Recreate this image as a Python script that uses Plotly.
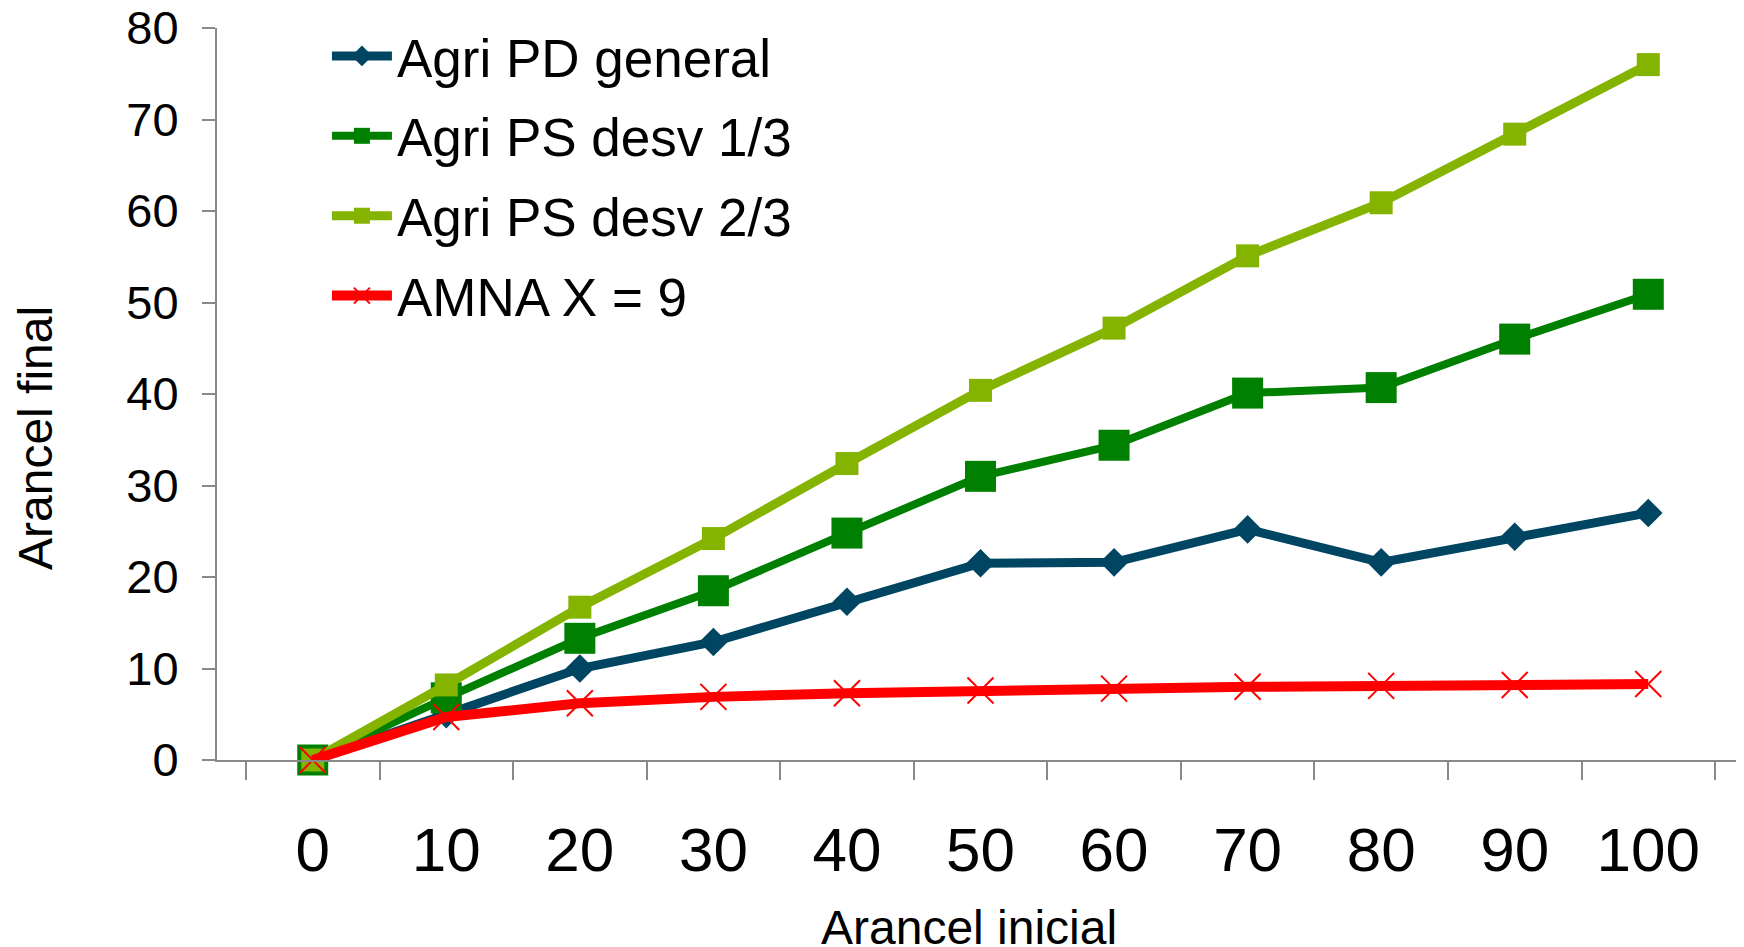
import plotly.graph_objects as go

categories = ["0", "10", "20", "30", "40", "50", "60", "70", "80", "90", "100"]
agri_pd_general = [0, 5.0, 10.0, 12.9, 17.3, 21.5, 21.6, 25.2, 21.6, 24.4, 27.0]
agri_ps_desv_13 = [0, 6.8, 13.3, 18.5, 24.8, 31.0, 34.4, 40.1, 40.7, 46.0, 50.9]
agri_ps_desv_23 = [0, 8.2, 16.7, 24.2, 32.4, 40.4, 47.2, 55.1, 60.9, 68.4, 76.0]
amna_x9 = [0, 4.7, 6.2, 6.9, 7.3, 7.6, 7.8, 8.0, 8.1, 8.2, 8.3]
series_names = ["Agri PD general", "Agri PS desv 1/3", "Agri PS desv 2/3", "AMNA X = 9"]

FONT = "Liberation Sans, Arial, sans-serif"
AXIS_GREY = "#898989"

fig = go.Figure()
fig.add_trace(go.Scatter(
    x=categories, y=agri_pd_general, name=series_names[0], mode="lines+markers",
    line=dict(color="#004562", width=9),
    marker=dict(symbol="diamond", size=22, color="#004562"),
    cliponaxis=False, legendgroup="a"))
fig.add_trace(go.Scatter(
    x=categories, y=agri_ps_desv_13, name=series_names[1], mode="lines+markers",
    line=dict(color="#008000", width=8),
    marker=dict(symbol="square", size=31, color="#008000"),
    cliponaxis=False, legendgroup="b"))
fig.add_trace(go.Scatter(
    x=categories, y=agri_ps_desv_23, name=series_names[2], mode="lines+markers",
    line=dict(color="#84B300", width=9),
    marker=dict(symbol="square", size=23, color="#84B300"),
    cliponaxis=False, legendgroup="c"))
fig.add_trace(go.Scatter(
    x=categories, y=amna_x9, name=series_names[3], mode="lines+markers",
    line=dict(color="#FF0000", width=10),
    marker=dict(symbol="x-thin", size=26, color="#FF0000",
                line=dict(color="#FF0000", width=2)),
    cliponaxis=False, legendgroup="d"))

fig.update_layout(
    width=1736, height=939,
    margin=dict(l=209, r=0, t=20, b=187),
    paper_bgcolor="white", plot_bgcolor="white",
    font=dict(family=FONT, color="black"),
    showlegend=True,
    legend=dict(
        x=0.072, y=1.0178, xanchor="left", yanchor="top",
        font=dict(size=53, family=FONT, color="black"),
        bgcolor="rgba(0,0,0,0)", borderwidth=0,
        traceorder="grouped", tracegroupgap=8, itemwidth=60,
    ),
    xaxis=dict(
        type="category", categoryorder="array", categoryarray=categories,
        tickson="boundaries", ticks="outside", ticklen=18, tickwidth=2,
        tickcolor=AXIS_GREY, showline=True, linecolor=AXIS_GREY, linewidth=2,
        showgrid=False, zeroline=False, automargin=False,
        tickfont=dict(size=62, family=FONT, color="black"),
        ticklabelstandoff=35, ticklabeloverflow="allow",
    ),
    yaxis=dict(
        range=[0, 80], dtick=10, tick0=0,
        ticks="outside", ticklen=13, tickwidth=2, tickcolor=AXIS_GREY,
        showline=True, linecolor=AXIS_GREY, linewidth=2,
        showgrid=False, zeroline=False, automargin=False,
        tickfont=dict(size=47, family=FONT, color="black"),
        ticklabelstandoff=14, ticklabeloverflow="allow",
    ),
    annotations=[
        dict(text="Arancel inicial", xref="paper", yref="paper",
             x=0.4925, y=-0.2295, xanchor="center", yanchor="middle",
             showarrow=False, font=dict(size=48, family=FONT, color="black")),
        dict(text="Arancel final", xref="paper", yref="paper",
             x=-0.1185, y=0.44, xanchor="center", yanchor="middle",
             textangle=-90,
             showarrow=False, font=dict(size=48, family=FONT, color="black")),
    ],
)

fig.write_html("out.html")
